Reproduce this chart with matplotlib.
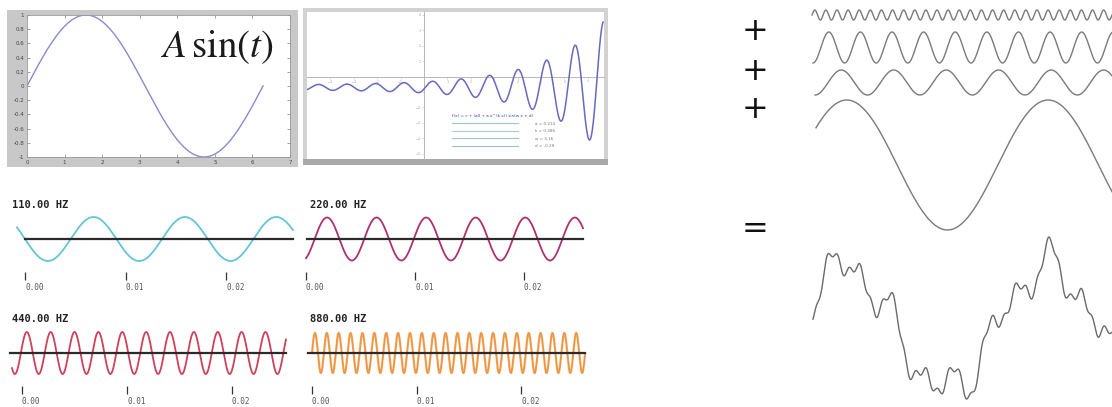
import numpy as np
import matplotlib
matplotlib.use("Agg")
import matplotlib.pyplot as plt
from matplotlib.lines import Line2D
from matplotlib.ticker import FormatStrFormatter

plt.rcParams["mathtext.fontset"] = "stix"

W, H = 1112, 407

# ---- panel 1: A sin(t) ----
SIN_AMPLITUDE = 1.0
SIN_T_END = 2 * np.pi
SIN_XTICKS = [0, 1, 2, 3, 4, 5, 6, 7]
SIN_YTICKS = [-1, -0.8, -0.6, -0.4, -0.2, 0, 0.2, 0.4, 0.6, 0.8, 1]

# ---- panel 2: growing oscillation  y = c + (a0 + a*exp(k x)) * sin(w x + d) ----
GROW_X_START, GROW_X_END = -5.0, 7.65
GROW_OFFSET = -0.7
GROW_BASE_AMP = 0.15
GROW_AMP = 0.214
GROW_RATE = 0.386
GROW_OMEGA = 5.16
GROW_PHASE = -0.29
GROW_XTICKS = [-4, -3, -2, -1, 1, 2, 3, 4, 5, 6, 7]
GROW_YTICKS = [-5, -4, -3, -2, -1, 1, 2, 3, 4]
GROW_LEGEND_TITLE = "f(x) = c + (a0 + a e^(k x)) sin(w x + d)"
GROW_LEGEND_LABELS = ["a = 0.214", "k = 0.386", "w = 5.16", "d = -0.29"]

# ---- tone panels ----
TONE_FREQS = [110, 220, 440, 880]
TONE_TITLES = ["110.00 HZ", "220.00 HZ", "440.00 HZ", "880.00 HZ"]
TONE_PHASES = [np.pi, -1.1, 0.3, 0.0]
TONE_TICKS = [0.00, 0.01, 0.02]
TONE_TICK_LABELS = ["0.00", "0.01", "0.02"]
TONE_COLORS = ["#62c6d6", "#b0306c", "#d04058", "#f4a84c"]

# ---- Fourier sum (right) ----
PART_CYCLES = [27.0, 9.46, 5.66, 1.47]
PART_AMPS = [5.0, 15.5, 12.5, 65.0]
PART_PHASES = [0.0, -np.pi / 2, -np.pi / 2, 0.61]
SIGNS = ["+", "+", "+", "="]

# layout (pixels): tick0, px per second, wave x0, wave x1, center y, amp, axis-line x0, title x
TONE_LAYOUT = [
    (25, 10050, 17, 293, 239, 22, 25, 12),
    (306, 10900, 306, 583, 239, 21.5, 307, 310),
    (22, 10500, 12, 286, 353, 21, 10, 12),
    (312, 10450, 312, 585, 353, 20, 308, 310),
]
PART_BOXES = [(812, 10, 1112, 20), (813, 32, 1112, 63), (815, 70, 1112, 95), (816, 100, 1112, 230)]
SUM_BOX = (813, 237, 1112, 399)
SIGN_POS = [(755, 32), (755, 72), (755, 110), (755, 230)]


def px_axes(fig, left, top, right, bottom, **kw):
    return fig.add_axes([left / W, 1 - bottom / H, (right - left) / W, (bottom - top) / H], **kw)


def blank(ax, color):
    ax.set_facecolor(color)
    ax.set_xticks([])
    ax.set_yticks([])
    for s in ax.spines.values():
        s.set_visible(False)


fig = plt.figure(figsize=(W / 100, H / 100), dpi=100)
fig.patch.set_facecolor("white")

# ---------------- panel 1 ----------------
blank(px_axes(fig, 7, 10, 298, 167), "#c8c8c8")

ax1 = px_axes(fig, 27, 15, 290, 157)
t = np.linspace(0, SIN_T_END, 400)
ax1.plot(t, SIN_AMPLITUDE * np.sin(t), color="#8a8ad0", lw=1.0)
ax1.set_xlim(0, 7)
ax1.set_ylim(-1, 1)
ax1.set_xticks(SIN_XTICKS)
ax1.set_yticks(SIN_YTICKS)
ax1.yaxis.set_major_formatter(FormatStrFormatter("%g"))
ax1.tick_params(direction="in", length=2, width=0.5, top=True, right=True,
                labelsize=4, labelcolor="#444444", color="#777777", pad=2)
for s in ax1.spines.values():
    s.set_color("#999999")
    s.set_linewidth(0.6)
ax1.text(0.725, 0.775, r"$A\,\sin(t)$", transform=ax1.transAxes, fontsize=28,
         ha="center", va="center", color="#1a1a1a")

# ---------------- panel 2 ----------------
blank(px_axes(fig, 303, 8, 608, 165), "#d2d2d2")
blank(px_axes(fig, 303, 159, 608, 165), "#a8a8a8")

ax2 = px_axes(fig, 307, 12, 604, 159)
x = np.linspace(GROW_X_START, GROW_X_END, 1200)
y = GROW_OFFSET + (GROW_BASE_AMP + GROW_AMP * np.exp(GROW_RATE * x)) * np.sin(GROW_OMEGA * x + GROW_PHASE)
ax2.plot(x, y, color="#6868c0", lw=1.1, zorder=3)
ax2.set_xlim(-5, 7.69)
ax2.set_ylim(-5.35, 4.19)
ax2.spines["left"].set_position(("data", 0))
ax2.spines["bottom"].set_position(("data", 0))
ax2.spines["top"].set_visible(False)
ax2.spines["right"].set_visible(False)
for s in ("left", "bottom"):
    ax2.spines[s].set_color("#b8b8b8")
    ax2.spines[s].set_linewidth(0.7)
ax2.set_xticks(GROW_XTICKS)
ax2.set_yticks(GROW_YTICKS)
ax2.tick_params(length=1.5, width=0.4, labelsize=2.5, labelcolor="#aaaaaa", color="#bbbbbb", pad=1)
handles = [Line2D([], [], color=c, lw=0.8) for c in ["#9cc8c8", "#a8d0c0", "#9cc8c8", "#9cc0c8"]]
leg = ax2.legend(handles, GROW_LEGEND_LABELS, title=GROW_LEGEND_TITLE, loc="upper left",
                 bbox_to_anchor=(0.475, 0.33), frameon=False, fontsize=3, title_fontsize=3,
                 handlelength=16, handletextpad=4, labelspacing=0.85, alignment="left")
leg.get_title().set_color("#3040c0")
for txt in leg.get_texts():
    txt.set_color("#777777")

# ---------------- tone panels ----------------
for i, freq in enumerate(TONE_FREQS):
    tick0, scale, x0, x1, cy, amp, line_x0, title_x = TONE_LAYOUT[i]
    ax = px_axes(fig, x0, cy - amp, x1, cy + amp)
    t0, t1 = (x0 - tick0) / scale, (x1 - tick0) / scale
    tt = np.linspace(t0, t1, 1500)
    wave = np.sin(2 * np.pi * freq * tt + TONE_PHASES[i])
    ax.plot(tt, wave, color=TONE_COLORS[i], lw=1.6 if i == 3 else 1.3, clip_on=False)
    if i == 3:
        ax.plot(tt, wave, color="#c85070", lw=0.5, alpha=0.35, clip_on=False)
    ax.set_xlim(t0, t1)
    ax.set_ylim(-1, 1)
    ax.axhline(0, xmin=(line_x0 - x0) / (x1 - x0), xmax=1, color="#2a2a2a", lw=1.6, zorder=3,
               clip_on=False)
    ax.vlines(TONE_TICKS, -41 / amp, -33 / amp, color="#333333", lw=0.9, clip_on=False)
    for tv, lab in zip(TONE_TICKS, TONE_TICK_LABELS):
        ax.text(tv, -48 / amp, lab, ha="left", va="center", fontsize=5.5,
                family="DejaVu Sans Mono", color="#555555", clip_on=False)
    ax.text((title_x - tick0) / scale, 34 / amp, TONE_TITLES[i], ha="left", va="center",
            fontsize=7.5, family="DejaVu Sans Mono", fontweight="bold", color="#222222")
    ax.axis("off")

# ---------------- Fourier sum ----------------
tr = np.linspace(0, 1, 2000)
parts = []
for cyc, amp, ph, box in zip(PART_CYCLES, PART_AMPS, PART_PHASES, PART_BOXES):
    comp = amp * np.sin(2 * np.pi * cyc * tr + ph)
    parts.append(comp)
    ax = px_axes(fig, *box)
    ax.plot(tr, comp, color="#7a7a7a", lw=1.0, clip_on=False)
    ax.set_xlim(0, 1)
    ax.set_ylim(-amp, amp)
    ax.axis("off")

total = np.sum(parts, axis=0)
ax = px_axes(fig, *SUM_BOX)
ax.plot(tr, total, color="#6a6a6a", lw=1.0, clip_on=False)
ax.set_xlim(0, 1)
ax.set_ylim(total.min(), total.max())
ax.axis("off")

for sign, (sx, sy) in zip(SIGNS, SIGN_POS):
    fig.text(sx / W, 1 - sy / H, sign, ha="center", va="center", fontsize=23, color="#111111")

fig.savefig("out.png", dpi=100, facecolor="white")
